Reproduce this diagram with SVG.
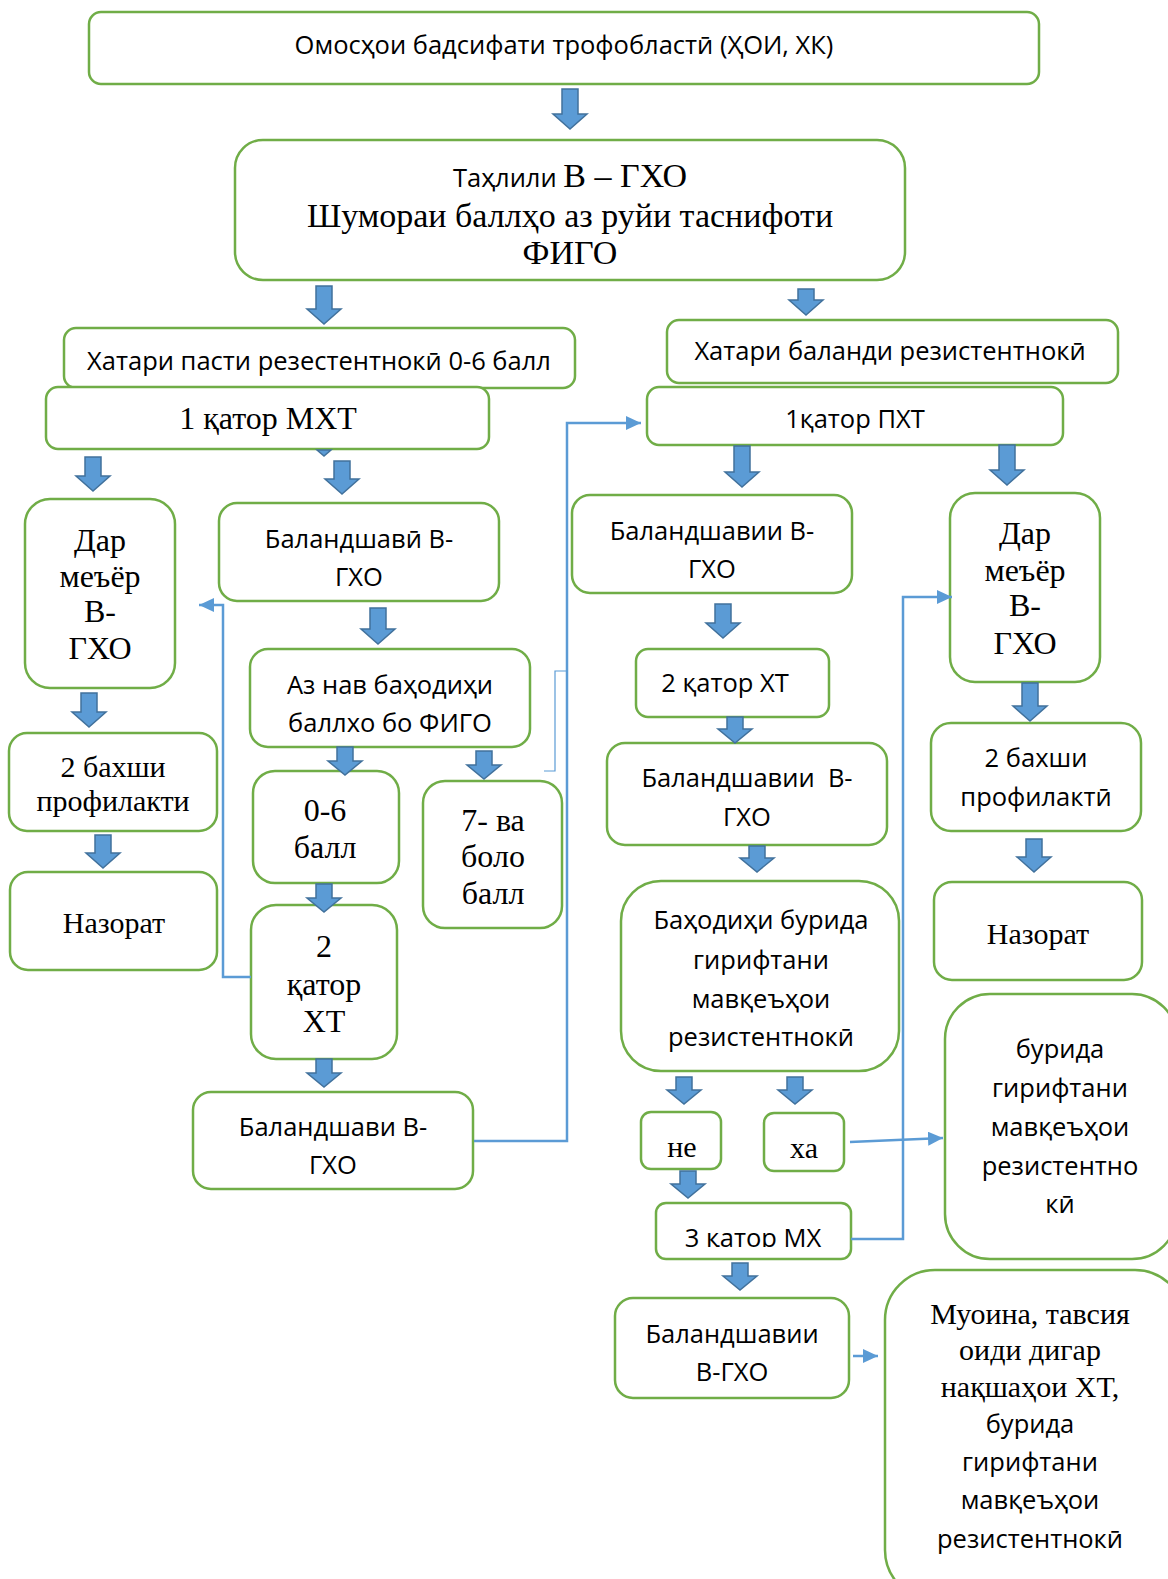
<svg xmlns="http://www.w3.org/2000/svg" width="1168" height="1579" viewBox="0 0 1168 1579">
<style>
.box{fill:#fff;stroke:#70AD47;stroke-width:2.5}
.arr{fill:#5B9BD5;stroke:#41719C;stroke-width:1.5;stroke-linejoin:miter}
.con{fill:none;stroke:#5B9BD5;stroke-width:2.5}
.thin{fill:none;stroke:#5B9BD5;stroke-width:1.2}
.s{font-family:"Open Sans","Liberation Sans",sans-serif;font-size:25.5px;text-anchor:middle;fill:#000}
.t{font-family:"Liberation Serif","Times New Roman",serif;font-size:32px;text-anchor:middle;fill:#000}
.t2{font-family:"Liberation Serif","Times New Roman",serif;font-size:30px;text-anchor:middle;fill:#000}
</style>
<defs>
<marker id="ah" markerUnits="userSpaceOnUse" markerWidth="15" markerHeight="14" refX="15" refY="7" orient="auto">
<path d="M0,0 L15,7 L0,14 z" fill="#5B9BD5"/>
</marker>
<clipPath id="clip26"><rect x="650" y="1200" width="210" height="47"/></clipPath>
</defs>
<rect width="1168" height="1579" fill="#fff"/>

<g id="n1"><rect class="box" x="89" y="12" width="950" height="72" rx="12"/>
<text class="s" x="564" y="54">Омосҳои бадсифати трофобластӣ (ҲОИ, ХК)</text></g>

<g id="n2"><rect class="box" x="235" y="140" width="670" height="140" rx="28"/>
<text class="s" x="570" y="187"><tspan>Таҳлили </tspan><tspan style="font-family:'Liberation Serif',serif;font-size:34px">В – ГХО</tspan></text>
<text class="t" x="570" y="227" style="font-size:34px">Шумораи баллҳо аз руйи таснифоти</text>
<text class="t" x="570" y="264" style="font-size:34px">ФИГО</text></g>

<g id="n3"><rect class="box" x="64" y="328" width="511" height="60" rx="12"/>
<text class="s" x="319" y="370">Хатари пасти резестентнокӣ 0-6 балл</text></g>

<g id="n4"><rect class="box" x="46" y="387" width="443" height="62" rx="12"/>
<text class="t" x="268" y="429">1 қатор МХТ</text></g>

<g id="n5"><rect class="box" x="667" y="320" width="451" height="63" rx="12"/>
<text class="s" x="890" y="360">Хатари баланди резистентнокӣ</text></g>

<g id="n6"><rect class="box" x="647" y="387" width="416" height="58" rx="12"/>
<text class="s" x="855" y="428">1қатор ПХТ</text></g>

<g id="n7"><rect class="box" x="25" y="499" width="150" height="189" rx="25"/>
<text class="t" x="100" y="551">Дар</text>
<text class="t" x="100" y="587">меъёр</text>
<text class="t" x="100" y="622">В-</text>
<text class="t" x="100" y="659">ГХО</text></g>

<g id="n8"><rect class="box" x="219" y="503" width="280" height="98" rx="18"/>
<text class="s" x="359" y="548">Баландшавӣ В-</text>
<text class="s" x="359" y="586">ГХО</text></g>

<g id="n9"><rect class="box" x="572" y="495" width="280" height="98" rx="18"/>
<text class="s" x="712" y="540">Баландшавии В-</text>
<text class="s" x="712" y="578">ГХО</text></g>

<g id="n10"><rect class="box" x="950" y="493" width="150" height="189" rx="25"/>
<text class="t" x="1025" y="544">Дар</text>
<text class="t" x="1025" y="581">меъёр</text>
<text class="t" x="1025" y="616">В-</text>
<text class="t" x="1025" y="654">ГХО</text></g>

<g id="n11"><rect class="box" x="250" y="649" width="280" height="98" rx="18"/>
<text class="s" x="390" y="694">Аз нав баҳодиҳи</text>
<text class="s" x="390" y="732">баллхо бо ФИГО</text></g>

<g id="n12"><rect class="box" x="9" y="733" width="208" height="98" rx="18"/>
<text class="t2" x="113" y="777">2 бахши</text>
<text class="t2" x="113" y="811">профилакти</text></g>

<g id="n13"><rect class="box" x="636" y="649" width="193" height="68" rx="12"/>
<text class="s" x="725" y="692">2 қатор ХТ</text></g>

<g id="n14"><rect class="box" x="607" y="743" width="280" height="102" rx="18"/>
<text class="s" x="747" y="787">Баландшавии&#160; В-</text>
<text class="s" x="747" y="826">ГХО</text></g>

<g id="n15"><rect class="box" x="931" y="723" width="210" height="108" rx="20"/>
<text class="s" x="1036" y="767">2 бахши</text>
<text class="s" x="1036" y="806">профилактӣ</text></g>

<g id="n16"><rect class="box" x="253" y="771" width="146" height="112" rx="22"/>
<text class="t" x="325" y="821">0-6</text>
<text class="t" x="325" y="858">балл</text></g>

<g id="n17"><rect class="box" x="423" y="781" width="139" height="147" rx="22"/>
<text class="t" x="493" y="831">7- ва</text>
<text class="t" x="493" y="867">боло</text>
<text class="t" x="493" y="904">балл</text></g>

<g id="n18"><rect class="box" x="10" y="872" width="207" height="98" rx="18"/>
<text class="t2" x="114" y="933">Назорат</text></g>

<g id="n19"><rect class="box" x="621" y="881" width="278" height="190" rx="40"/>
<text class="s" x="761" y="929">Баҳодиҳи бурида</text>
<text class="s" x="761" y="969">гирифтани</text>
<text class="s" x="761" y="1008">мавқеъҳои</text>
<text class="s" x="761" y="1046">резистентнокӣ</text></g>

<g id="n20"><rect class="box" x="934" y="882" width="208" height="98" rx="18"/>
<text class="t2" x="1038" y="944">Назорат</text></g>

<g id="n21"><rect class="box" x="251" y="905" width="146" height="154" rx="25"/>
<text class="t" x="324" y="957">2</text>
<text class="t" x="324" y="995">қатор</text>
<text class="t" x="324" y="1032">ХТ</text></g>

<g id="n22"><rect class="box" x="945" y="994" width="232" height="265" rx="45"/>
<text class="s" x="1060" y="1058">бурида</text>
<text class="s" x="1060" y="1097">гирифтани</text>
<text class="s" x="1060" y="1136">мавқеъҳои</text>
<text class="s" x="1060" y="1175">резистентно</text>
<text class="s" x="1060" y="1213">кӣ</text></g>

<g id="n23"><rect class="box" x="193" y="1092" width="280" height="97" rx="18"/>
<text class="s" x="333" y="1136">Баландшави В-</text>
<text class="s" x="333" y="1174">ГХО</text></g>

<g id="n24"><rect class="box" x="641" y="1112" width="80" height="57" rx="10"/>
<text class="t2" x="682" y="1157">не</text></g>

<g id="n25"><rect class="box" x="764" y="1113" width="80" height="58" rx="10"/>
<text class="t2" x="804" y="1158">ха</text></g>

<g id="n26"><rect class="box" x="656" y="1203" width="195" height="56" rx="10"/>
<text class="s" x="753" y="1247" clip-path="url(#clip26)">3 қатор МХ</text></g>

<g id="n27"><rect class="box" x="615" y="1298" width="234" height="100" rx="18"/>
<text class="s" x="732" y="1343">Баландшавии</text>
<text class="s" x="732" y="1381">В-ГХО</text></g>

<g id="n28"><rect class="box" x="885" y="1270" width="300" height="330" rx="50"/>
<text class="t2" x="1030" y="1324">Муоина, тавсия</text>
<text class="t2" x="1030" y="1360">оиди дигар</text>
<text class="t2" x="1030" y="1397">нақшаҳои ХТ,</text>
<text class="s" x="1030" y="1433">бурида</text>
<text class="s" x="1030" y="1471">гирифтани</text>
<text class="s" x="1030" y="1509">мавқеъҳои</text>
<text class="s" x="1030" y="1548">резистентнокӣ</text></g>

<g id="connectors">
<polygon class="arr" points="562,89 578,89 578,114 587,114 570,129 553,114 562,114"/>
<polygon class="arr" points="316,286 332,286 332,309 341,309 324,324 307,309 316,309"/>
<polygon class="arr" points="798,289 814,289 814,300 823,300 806,315 789,300 798,300"/>
<polygon class="arr" points="317,450 331,450 324,456"/>
<polygon class="arr" points="85,457 101,457 101,476 110,476 93,491 76,476 85,476"/>
<polygon class="arr" points="334,461 350,461 350,479 359,479 342,494 325,479 334,479"/>
<polygon class="arr" points="734,446 750,446 750,472 759,472 742,487 725,472 734,472"/>
<polygon class="arr" points="999,445 1015,445 1015,470 1024,470 1007,485 990,470 999,470"/>
<polygon class="arr" points="370,608 386,608 386,629 395,629 378,644 361,629 370,629"/>
<polygon class="arr" points="81,693 97,693 97,712 106,712 89,727 72,712 81,712"/>
<polygon class="arr" points="715,604 731,604 731,623 740,623 723,638 706,623 715,623"/>
<polygon class="arr" points="1022,683 1038,683 1038,706 1047,706 1030,721 1013,706 1022,706"/>
<polygon class="arr" points="337,747 353,747 353,761 362,761 345,775 328,761 337,761"/>
<polygon class="arr" points="476,751 492,751 492,765 501,765 484,779 467,765 476,765"/>
<polygon class="arr" points="95,835 111,835 111,853 120,853 103,868 86,853 95,853"/>
<polygon class="arr" points="727,717 743,717 743,729 752,729 735,743 718,729 727,729"/>
<polygon class="arr" points="749,846 765,846 765,858 774,858 757,872 740,858 749,858"/>
<polygon class="arr" points="1026,839 1042,839 1042,857 1051,857 1034,872 1017,857 1026,857"/>
<polygon class="arr" points="316,884 332,884 332,898 341,898 324,912 307,898 316,898"/>
<polygon class="arr" points="316,1059 332,1059 332,1073 341,1073 324,1087 307,1073 316,1073"/>
<polygon class="arr" points="676,1077 692,1077 692,1090 701,1090 684,1104 667,1090 676,1090"/>
<polygon class="arr" points="787,1077 803,1077 803,1090 812,1090 795,1104 778,1090 787,1090"/>
<polygon class="arr" points="680,1171 696,1171 696,1184 705,1184 688,1198 671,1184 680,1184"/>
<polygon class="arr" points="732,1263 748,1263 748,1276 757,1276 740,1290 723,1276 732,1276"/>
<path class="con" d="M251,977 H223 V605 H199" marker-end="url(#ah)"/>
<path class="con" d="M474,1141 H567 V423 H641" marker-end="url(#ah)"/>
<path class="thin" d="M544,771 H555 V671 H567"/>
<path class="con" d="M851,1239 H903 V597 H952" marker-end="url(#ah)"/>
<path class="con" d="M850,1142 L943,1138" marker-end="url(#ah)"/>
<path class="con" d="M853,1356 H878" marker-end="url(#ah)"/>
</g>
</svg>
